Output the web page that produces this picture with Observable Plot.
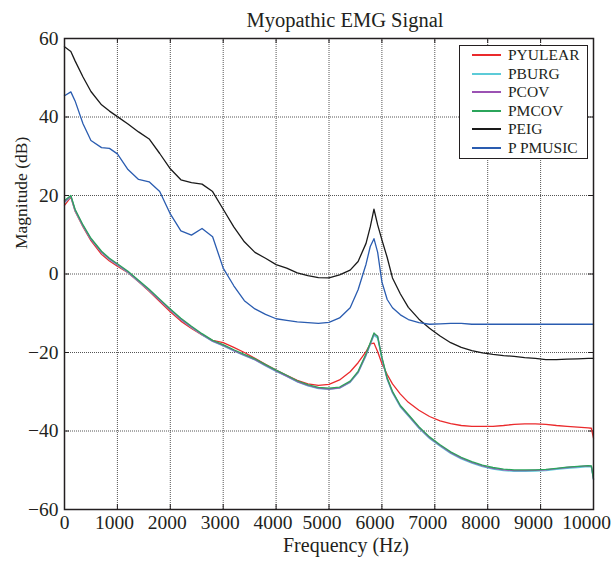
<!DOCTYPE html>
<html><head><meta charset="utf-8">
<script src="https://cdn.jsdelivr.net/npm/d3@7"></script>
<script src="https://cdn.jsdelivr.net/npm/@observablehq/plot@0.6"></script>
<style>
body{margin:0;background:#fff;}
#wrap{position:relative;width:611px;height:561px;font-family:"Liberation Serif",serif;color:#231f20;}
#title{position:absolute;left:245px;width:200px;top:8px;text-align:center;font-size:20.5px;line-height:24px;white-space:nowrap;}
#legend{position:absolute;left:459px;top:45px;width:129px;height:114px;border:1.5px solid #231f20;background:#fff;box-sizing:border-box;}
.row{position:absolute;left:0;height:18px;display:flex;align-items:center;font-size:15.5px;white-space:nowrap;}
.sw{display:inline-block;width:29px;height:2px;margin-left:12px;margin-right:7px;}
#chart{position:absolute;left:0;top:0;}
</style></head>
<body>
<div id="wrap"><div id="chart"></div><div id="title">Myopathic EMG Signal</div><div id="legend"></div></div>
<script>
const freq = [0,120,200,350,500,700,850,1000,1200,1400,1600,1800,2000,2200,2400,2600,2800,3000,3200,3400,3600,3800,4000,4200,4400,4600,4800,5000,5200,5400,5550,5700,5780,5850,5920,6000,6100,6200,6350,6500,6700,6900,7100,7300,7500,7700,7900,8100,8300,8500,8700,8900,9100,9300,9500,9700,9900,9960,10000];
const pyulear = [17.5,19.6,16.0,12.0,8.5,5.0,3.3,2.0,0.3,-2.0,-4.4,-7.0,-9.6,-12.0,-13.9,-15.5,-16.9,-17.5,-18.7,-20.0,-21.5,-23.0,-24.5,-25.8,-27.1,-28.0,-28.4,-28.1,-27.0,-24.9,-22.6,-19.8,-17.8,-17.6,-19.8,-22.8,-25.6,-28.0,-30.6,-32.7,-34.7,-36.3,-37.4,-38.1,-38.6,-38.8,-38.8,-38.8,-38.6,-38.3,-38.2,-38.2,-38.3,-38.6,-38.8,-39.0,-39.2,-39.3,-41.8];
const pburg = [18.2,19.7,16.1,12.2,8.8,5.5,3.7,2.3,0.4,-1.9,-4.2,-6.7,-9.2,-11.6,-13.6,-15.5,-17.2,-18.3,-19.6,-20.8,-21.9,-23.4,-24.8,-26.1,-27.5,-28.5,-29.2,-29.4,-29.1,-27.6,-25.2,-20.8,-18.0,-15.6,-16.4,-21.6,-26.9,-30.3,-33.9,-36.2,-39.3,-41.9,-43.9,-45.7,-47.1,-48.2,-49.1,-49.7,-50.1,-50.3,-50.3,-50.2,-50.1,-49.8,-49.5,-49.3,-49.1,-49.2,-52.4];
const pcov = [18.4,19.8,16.3,12.3,8.9,5.6,3.8,2.4,0.5,-1.8,-4.1,-6.6,-9.1,-11.5,-13.5,-15.4,-17.1,-18.2,-19.5,-20.7,-21.8,-23.3,-24.7,-26.0,-27.4,-28.4,-29.1,-29.3,-29.0,-27.5,-25.0,-20.6,-17.8,-15.3,-15.8,-21.4,-26.7,-30.1,-33.7,-36.0,-39.1,-41.7,-43.7,-45.5,-46.9,-48.0,-48.9,-49.5,-49.9,-50.1,-50.1,-50.0,-49.9,-49.6,-49.3,-49.1,-48.9,-49.0,-52.3];
const pmcov = [18.7,20.0,16.5,12.5,9.1,5.8,4.0,2.6,0.7,-1.6,-3.9,-6.4,-8.9,-11.3,-13.3,-15.2,-16.9,-18.0,-19.3,-20.5,-21.6,-23.1,-24.5,-25.8,-27.2,-28.2,-28.9,-29.1,-28.8,-27.3,-24.8,-20.3,-17.5,-15.0,-16.0,-21.2,-26.5,-29.9,-33.5,-35.8,-38.9,-41.5,-43.5,-45.3,-46.7,-47.8,-48.7,-49.3,-49.7,-49.9,-49.9,-49.9,-49.8,-49.5,-49.2,-49.0,-48.8,-48.9,-52.2];
const peig = [57.9,56.7,54.3,50.2,46.5,43.1,41.5,40.1,38.2,36.2,34.4,30.7,26.8,24.0,23.3,22.9,21.0,16.5,12.0,8.2,5.5,4.0,2.4,1.5,0.3,-0.4,-0.9,-1.0,-0.2,1.0,3.2,7.8,12.0,16.5,12.5,8.7,4.2,-1.0,-5.1,-8.5,-11.5,-13.8,-15.8,-17.5,-18.7,-19.5,-20.1,-20.5,-20.8,-21.0,-21.3,-21.5,-21.8,-21.8,-21.7,-21.6,-21.5,-21.5,-21.5];
const ppmusic = [45.4,46.4,44.1,38.3,34.0,32.2,32.0,30.6,26.6,24.1,23.5,21.0,15.3,11.0,9.9,11.6,9.5,1.5,-3.0,-6.8,-8.9,-10.3,-11.4,-11.8,-12.2,-12.4,-12.6,-12.3,-11.2,-8.6,-4.0,2.5,7.0,9.0,5.5,-2.0,-6.5,-8.6,-10.4,-11.6,-12.4,-12.8,-12.7,-12.6,-12.6,-12.8,-12.8,-12.8,-12.8,-12.8,-12.8,-12.8,-12.8,-12.8,-12.8,-12.8,-12.8,-12.8,-12.8];

const seriesNames = ["PYULEAR","PBURG","PCOV","PMCOV","PEIG","P PMUSIC"];
const seriesColors = ["#ea2a2c","#5ccbd8","#9b52b3","#2ba55b","#1a1a1a","#2a5cb0"];
const seriesValues = [pyulear,pburg,pcov,pmcov,peig,ppmusic];

const xTicks = [0,1000,2000,3000,4000,5000,6000,7000,8000,9000,10000];
const yTicks = [-60,-40,-20,0,20,40,60];
const xLabel = "Frequency (Hz)";
const yLabel = "Magnitude (dB)";

const rows = [];
seriesNames.forEach((name, i) => {
  seriesValues[i].forEach((v, j) => rows.push({series: name, f: freq[j], v}));
});

const W = 611, H = 561, mL = 64, mR = 18, mT = 38, mB = 52;
const pw = W - mL - mR, ph = H - mT - mB;
const ink = "#231f20";
const fmt = d => String(d);

const chart = Plot.plot({
  width: W, height: H,
  marginLeft: mL, marginRight: mR, marginTop: mT, marginBottom: mB,
  style: {fontFamily: "'Liberation Serif', serif", fontSize: "19.5px", color: ink, background: "#fff"},
  x: {domain: [0, 10000]},
  y: {domain: [-60, 60]},
  color: {domain: seriesNames, range: seriesColors},
  marks: [
    Plot.gridX(xTicks, {stroke: "#555", strokeOpacity: 1, strokeDasharray: "1,1"}),
    Plot.gridY(yTicks, {stroke: "#555", strokeOpacity: 1, strokeDasharray: "1,1"}),
    Plot.ruleX(xTicks, {x: d => d, stroke: ink, insetBottom: ph - 5}),
    Plot.ruleX(xTicks, {x: d => d, stroke: ink, insetTop: ph - 5}),
    Plot.ruleY(yTicks, {y: d => d, stroke: ink, insetRight: pw - 5}),
    Plot.ruleY(yTicks, {y: d => d, stroke: ink, insetLeft: pw - 5}),
    Plot.line(rows, {x: "f", y: "v", z: "series", stroke: "series", strokeWidth: 1.3}),
    Plot.frame({stroke: ink, strokeWidth: 1.5}),
    Plot.axisX(xTicks.slice(0, 1), {tickSize: 0, tickPadding: 6, label: null, tickFormat: fmt, fontSize: 19.5, dx: 0}),
    Plot.axisX(xTicks.slice(1, 5), {tickSize: 0, tickPadding: 6, label: null, tickFormat: fmt, fontSize: 19.5, dx: -3}),
    Plot.axisX(xTicks.slice(5), {tickSize: 0, tickPadding: 6, label: null, tickFormat: fmt, fontSize: 19.5, dx: -7}),
    Plot.axisY(yTicks, {tickSize: 0, tickPadding: 6, label: null, fontSize: 19.5}),
    Plot.text([xLabel], {frameAnchor: "bottom", dx: 17, dy: 42, text: d => d, fontSize: 20, fill: ink}),
    Plot.text([yLabel], {frameAnchor: "left", dx: -43, dy: -25, rotate: -90, text: d => d, fontSize: 17.5, fill: ink})
  ]
});
document.getElementById("chart").appendChild(chart);

const leg = document.getElementById("legend");
seriesNames.forEach((name, i) => {
  const r = document.createElement("div");
  r.className = "row";
  r.style.top = (i * 18.5) + "px";
  r.innerHTML = `<span class="sw" style="background:${seriesColors[i]}"></span><span>${name}</span>`;
  leg.appendChild(r);
});
</script>
</body></html>
